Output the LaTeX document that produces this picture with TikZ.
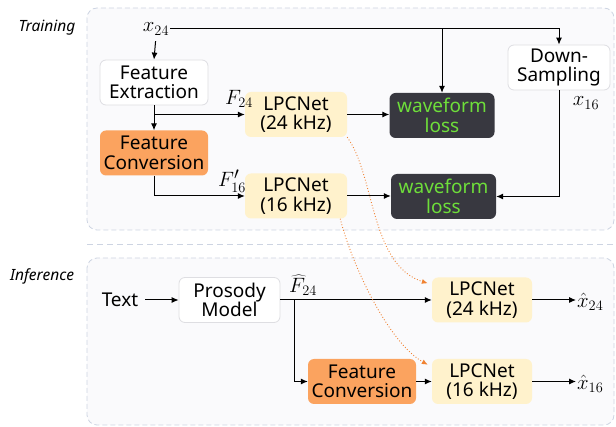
\documentclass[tikz,border=0pt]{standalone}
\usepackage{fontspec}
\setmainfont{Noto Sans}
\usetikzlibrary{arrows.meta,calc}

% subscripts and primes set larger than the default script size
\newcommand\lsub[1]{_{\mbox{\fontsize{15}{15}\selectfont$#1$}}}
\newcommand\lprime{^{\mbox{\fontsize{17}{17}\selectfont$\prime$}}}

\definecolor{panelfill}{RGB}{250,250,252}
\definecolor{paneledge}{RGB}{205,212,226}
\definecolor{boxedge}{RGB}{222,222,226}
\definecolor{convfill}{RGB}{251,163,95}
\definecolor{netfill}{RGB}{255,242,204}
\definecolor{lossfill}{RGB}{56,56,64}
\definecolor{losstext}{RGB}{110,222,58}
\definecolor{linkorange}{RGB}{240,130,50}

\begin{document}
\begin{tikzpicture}[x=1pt,y=-1pt,
  panel/.style={draw=paneledge, fill=panelfill, dashed, dash pattern=on 5pt off 3pt, rounded corners=10pt, line width=0.8pt},
  blk/.style={rounded corners=6pt, minimum height=45pt, align=center, inner sep=0pt,
              font=\fontsize{19}{19.5}\selectfont},
  plainbox/.style={blk, draw=boxedge, fill=white, line width=0.8pt},
  convbox/.style={blk, fill=convfill, minimum width=108pt},
  netbox/.style={blk, fill=netfill},
  lossbox/.style={blk, fill=lossfill, text=losstext, minimum width=105pt},
  mathlbl/.style={font=\fontsize{21}{24}\selectfont, inner sep=1pt},
  sectlbl/.style={font=\fontsize{15.5}{18}\selectfont\bfseries\itshape},
  arr/.style={-{Latex[length=7pt,width=6pt]}, line width=1pt, black},
  link/.style={-{Latex[length=6pt,width=5pt]}, linkorange, dotted, line width=0.9pt},
]
\useasboundingbox (0,0) rectangle (616,427);

% panels
\draw[panel] (87,8) rectangle (614,230);
\draw[paneledge, dashed, dash pattern=on 6pt off 4pt, line width=0.9pt] (87,244) -- (614,244);
\draw[panel] (87,258) rectangle (614,425);

\node[sectlbl] (trainlbl) at (47,28) {Training};
\node[sectlbl] (inflbl) at (42,276) {Inference};

% training branch
\node[mathlbl] (x24) at (156,29) {$x\lsub{24}$};
\node[plainbox, minimum width=108pt] (fe) at (154,82.5) {Feature\\Extraction};
\node[convbox] (fc) at (154,153) {Feature\\Conversion};
\node[netbox, minimum width=102pt] (l24) at (296,114.5) {LPCNet\\(24 kHz)};
\node[netbox, minimum width=102pt] (l16) at (296,196) {LPCNet\\(16 kHz)};
\node[lossbox] (w1) at (442,115.5) {waveform\\loss};
\node[lossbox] (w2) at (443.5,196.5) {waveform\\loss};
\node[plainbox, minimum width=102pt] (ds) at (559,67.5) {Down-\\Sampling};
\node[mathlbl] (x16) at (586,103) {$x\lsub{16}$};
\node[mathlbl] (f24) at (239,99) {$F\lsub{24}$};
\node[mathlbl] (f16) at (232,181) {$F\lprime\lsub{16}$};

\draw[arr, shorten <=5pt] (x24.south) -- (fe.north);
\draw[arr] (x24.east) -| (ds.north);
\draw[arr] (w1.north |- x24.east) -- (w1.north);
\draw[arr] (fe) -- (fc);
\draw[arr] (fe.south |- l24.west) -- (l24.west);
\draw[arr] (fc.south) |- (l16.west);
\draw[arr] (l24.east) -- (l24.east -| w1.west);
\draw[arr] (l16.east) -- (l16.east -| w2.west);
\draw[arr] (ds.south) |- (w2.east);

% inference branch
\node[font=\fontsize{19}{19.5}\selectfont, inner sep=1pt] (txt) at (120,300) {Text};
\node[plainbox, minimum width=101pt] (pm) at (229.5,300) {Prosody\\Model};
\node[mathlbl] (fh) at (303,285) {$\widehat{F}\lsub{24}$};
\node[netbox, minimum width=100pt] (il24) at (482,300) {LPCNet\\(24 kHz)};
\node[convbox] (ifc) at (362,381.5) {Feature\\Conversion};
\node[netbox, minimum width=100pt] (il16) at (482,381.5) {LPCNet\\(16 kHz)};
\node[mathlbl, anchor=west] (xh24) at (576,302) {$\hat{x}\lsub{24}$};
\node[mathlbl, anchor=west] (xh16) at (576,384) {$\hat{x}\lsub{16}$};

\draw[arr] (txt.east) ++(6,0) -- (pm.west);
\draw[arr] (pm.east) -- (il24.west);
\coordinate (split) at ($(pm.east)+(14,0)$);
\draw[arr] (split) |- (ifc.west);
\draw[arr] (ifc) -- (il16);
\draw[arr] (il24.east) -- (il24.east -| xh24.west);
\draw[arr] (il16.east) -- (il16.east -| xh16.west);

% weight transfer links
\draw[link] (l24.south east) .. controls (375,175) and (370,265) .. ($(il24.north west)+(-4,6)$);
\draw[link] ($(l16.south east)+(-7,0)$) .. controls (352,265) and (388,342) .. ($(il16.north west)+(-4,6)$);
\end{tikzpicture}
\end{document}
